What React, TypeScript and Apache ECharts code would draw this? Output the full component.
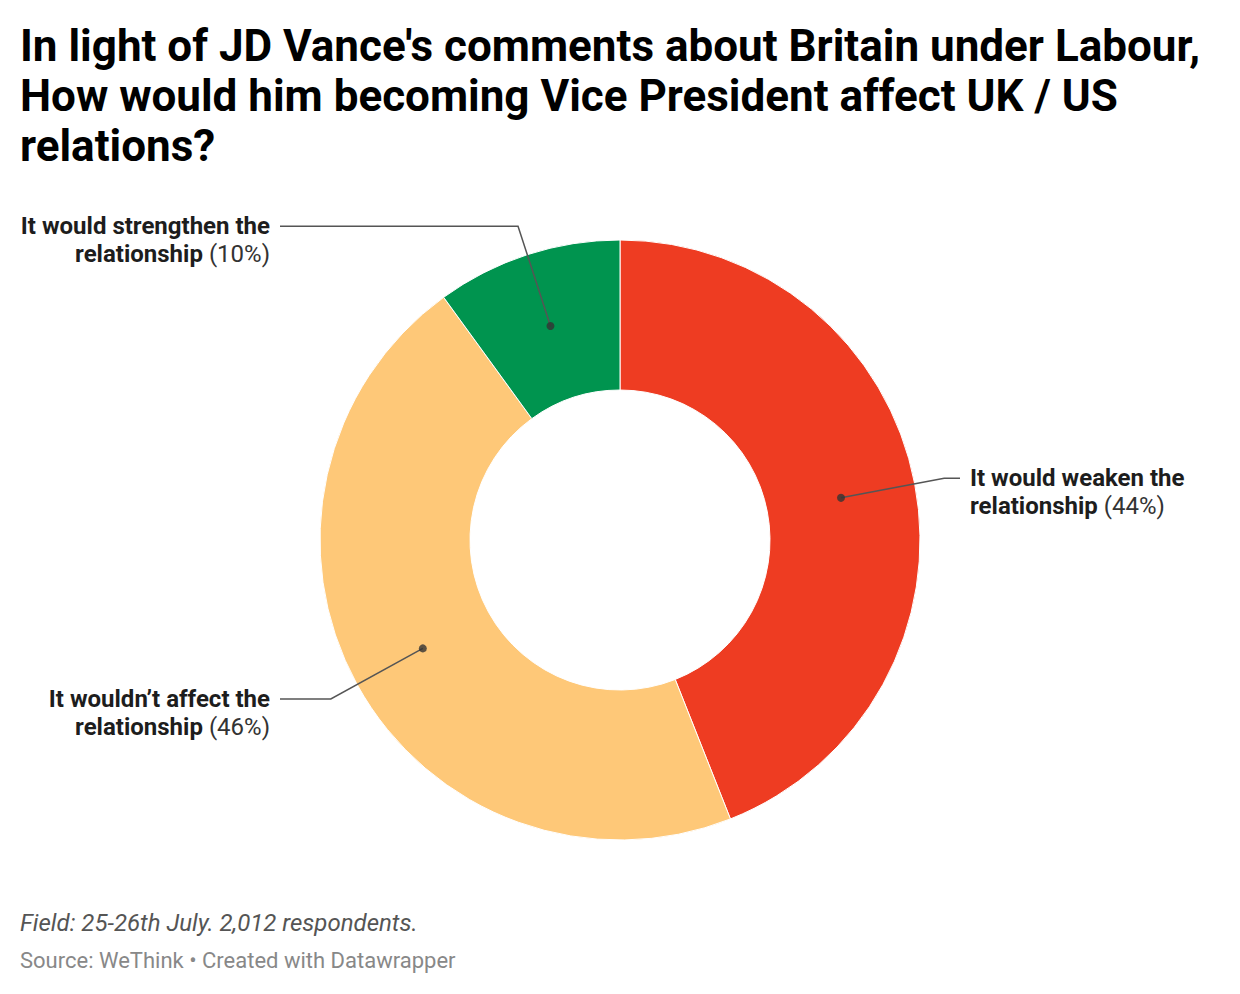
import React, { useEffect, useRef } from "react";
import * as echarts from "echarts";

const categories = [
  "It would weaken the",
  "It wouldn\u2019t affect the",
  "It would strengthen the",
];
const secondLines = ["relationship", "relationship", "relationship"];
const values = [44, 46, 10];
const colors = ["#ee3c22", "#fec878", "#00944f"];

const TITLE =
  "In light of JD Vance's comments about Britain under Labour,\nHow would him becoming Vice President affect UK / US\nrelations?";
const NOTE = "Field: 25-26th July. 2,012 respondents.";
const SOURCE = "Source: WeThink \u2022 Created with Datawrapper";

const CX = 620;
const CY = 540;
const R_OUT = 300;
const R_IN = 150;
const R_MID = 225;
const LINE_END = 340;
const TEXT_GAP = 10;

export default function App() {
  const ref = useRef<HTMLDivElement>(null);
  useEffect(() => {
    if (!ref.current) return;
    const chart = echarts.init(ref.current, null, { renderer: "svg" });
    const total = values.reduce((a, b) => a + b, 0);
    const mids: number[] = [];
    let acc = 0;
    values.forEach((v) => {
      mids.push(((acc + v / 2) / total) * 100);
      acc += v;
    });

    const option: any = {
      animation: false,
      backgroundColor: "#ffffff",
      textStyle: { fontFamily: "Roboto" },
      title: [
        {
          text: TITLE,
          left: 15,
          top: 16,
          textStyle: {
            fontFamily: "Roboto",
            fontWeight: 700,
            fontSize: 44,
            lineHeight: 50,
            color: "#000000",
          },
        },
      ],
      graphic: [
        {
          type: "text",
          left: 20,
          top: 911,
          style: {
            text: NOTE,
            font: "italic 24px Roboto",
            fill: "#555555",
          },
        },
        {
          type: "text",
          left: 20,
          top: 949,
          style: {
            text: SOURCE,
            font: "22px Roboto",
            fill: "#888888",
          },
        },
      ],
      polar: { center: [CX, CY], radius: R_OUT },
      angleAxis: {
        type: "value",
        min: 0,
        max: 100,
        startAngle: 90,
        clockwise: true,
        show: false,
      },
      radiusAxis: { type: "value", min: 0, max: R_OUT, show: false },
      series: [
        {
          type: "pie",
          center: [CX, CY],
          radius: [R_IN, R_OUT],
          startAngle: 90,
          clockwise: true,
          silent: true,
          label: { show: false },
          labelLine: { show: false },
          itemStyle: { borderColor: "#ffffff", borderWidth: 1 },
          data: values.map((v, i) => ({
            name: categories[i],
            value: v,
            itemStyle: { color: colors[i] },
          })),
        },
        {
          type: "pie",
          center: [CX, CY],
          radius: [0, R_MID],
          startAngle: 90,
          clockwise: true,
          silent: true,
          z: 3,
          itemStyle: { color: "rgba(0,0,0,0)" },
          label: {
            show: true,
            position: "outside",
            formatter: (p: any) =>
              `{b|${categories[p.dataIndex]}}\n{b|${secondLines[p.dataIndex]}}{r| (${values[p.dataIndex]}%)}`,
            rich: {
              b: {
                fontFamily: "Roboto",
                fontWeight: 700,
                fontSize: 24,
                lineHeight: 28,
                color: "#1d1d1d",
              },
              r: {
                fontFamily: "Roboto",
                fontWeight: 400,
                fontSize: 24,
                lineHeight: 28,
                color: "#333333",
              },
            },
          },
          labelLine: {
            show: true,
            length: R_OUT + 30 - R_MID,
            length2: 15,
            lineStyle: { color: "#555555", width: 1.5 },
          },
          labelLayout: (params: any) => {
            const pts = params.labelLinePoints;
            if (!pts) return {};
            const p0 = pts[0];
            const p1 = pts[1];
            const right = p1[0] >= CX;
            const endX = right ? CX + LINE_END : CX - LINE_END;
            return {
              x: right ? endX + TEXT_GAP : endX - TEXT_GAP,
              y: p1[1] - 14,
              align: right ? "left" : "right",
              verticalAlign: "top",
              labelLinePoints: [p0, p1, [endX, p1[1]]],
            };
          },
          data: values.map((v, i) => ({ name: categories[i], value: v })),
        },
        {
          type: "scatter",
          coordinateSystem: "polar",
          symbol: "circle",
          symbolSize: 8,
          silent: true,
          z: 5,
          itemStyle: { color: "#333333" },
          data: mids.map((m) => [R_MID, m]),
        },
      ],
    };
    chart.setOption(option);
    return () => chart.dispose();
  }, []);
  return (
    <div
      ref={ref}
      style={{ position: "absolute", left: 0, top: 0, width: 1240, height: 994 }}
    />
  );
}
